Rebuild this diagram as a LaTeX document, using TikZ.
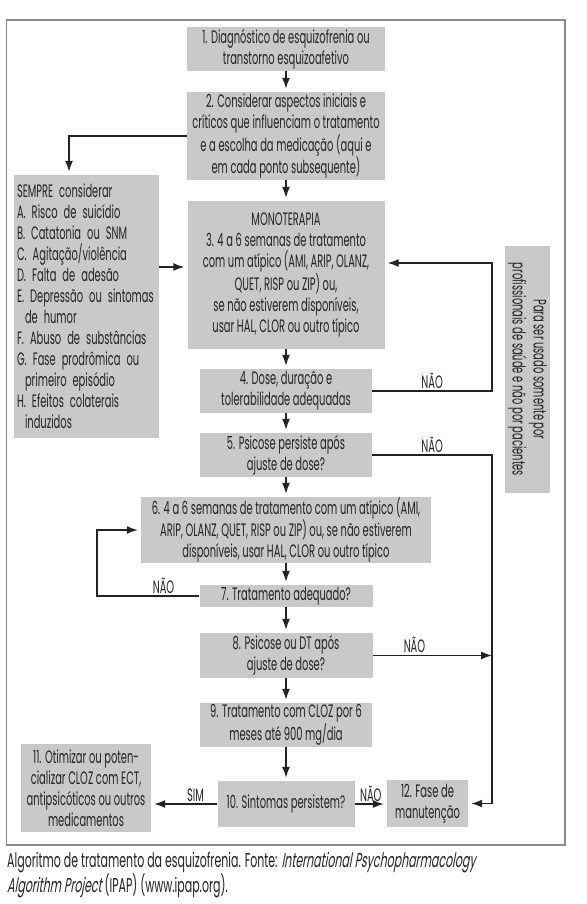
\documentclass[tikz,border=0pt]{standalone}
\usepackage{fontspec}
\setmainfont{Poppins}[FakeStretch=0.55,ItalicFont=Poppins,ItalicFeatures={FakeSlant=0.18}]
\usepackage{xcolor}
\usepackage{tikz}
\usetikzlibrary{arrows.meta,calc}
\definecolor{CinzaCaixa}{RGB}{201,201,201}
\definecolor{CinzaMoldura}{RGB}{140,140,140}
\definecolor{TracoEscuro}{RGB}{35,35,35}

\begin{document}
\begin{tikzpicture}[x=1pt,y=-1pt,>={Latex[length=11pt,width=8pt]},
  etapa/.style={fill=CinzaCaixa,inner sep=0pt,align=center,text=TracoEscuro,font=\fontsize{18}{21}\selectfont},
  fluxo/.style={->,line width=1.4pt,draw=TracoEscuro,shorten >=3pt},
  rotulo/.style={above,inner sep=2pt,text=TracoEscuro,font=\fontsize{18}{21}\selectfont}]
  \useasboundingbox (0,0) rectangle (586,904);
  \draw[CinzaMoldura,line width=1.5pt] (6.7,20) rectangle (565,845);

  \node[etapa,minimum width=198,minimum height=44] (d1) at (286,49)
    {1. Diagnóstico de esquizofrenia ou\\transtorno esquizoafetivo};
  \node[etapa,minimum width=198,minimum height=88] (d2) at (286,136)
    {2. Considerar aspectos iniciais e\\críticos que influenciam o tratamento\\e a escolha da medicação (aqui e\\em cada ponto subsequente)};
  \node[etapa,align=left,text width=139,inner sep=3pt,minimum height=263] (sempre) at (86.5,306.5)
    {SEMPRE considerar\\A. Risco de suicídio\\B. Catatonia ou SNM\\C. Agitação/violência\\D. Falta de adesão\\E. Depressão ou sintomas\\\hspace*{8pt}de humor\\F. Abuso de substâncias\\G. Fase prodrômica ou\\\hspace*{8pt}primeiro episódio\\H. Efeitos colaterais\\\hspace*{8pt}induzidos};
  \node[etapa,minimum width=197,minimum height=148] (d3) at (286,275)
    {MONOTERAPIA\\3. 4 a 6 semanas de tratamento\\com um atípico (AMI, ARIP, OLANZ,\\QUET, RISP ou ZIP) ou,\\se não estiverem disponíveis,\\usar HAL, CLOR ou outro típico};
  \node[etapa,minimum width=172,minimum height=44] (d4) at (286,391)
    {4. Dose, duração e\\tolerabilidade adequadas};
  \node[etapa,minimum width=172,minimum height=44] (d5) at (286,455)
    {5. Psicose persiste após\\ajuste de dose?};
  \node[etapa,minimum width=290,minimum height=66] (d6) at (286,530)
    {6. 4 a 6 semanas de tratamento com um atípico (AMI,\\ARIP, OLANZ, QUET, RISP ou ZIP) ou, se não estiverem\\disponíveis, usar HAL, CLOR ou outro típico};
  \node[etapa,minimum width=173,minimum height=22] (d7) at (286,596)
    {7. Tratamento adequado?};
  \node[etapa,minimum width=173,minimum height=45] (d8) at (286,655.5)
    {8. Psicose ou DT após\\ajuste de dose?};
  \node[etapa,minimum width=172,minimum height=44] (d9) at (286,725)
    {9. Tratamento com CLOZ por 6\\meses até 900 mg/dia};
  \node[etapa,minimum width=137,minimum height=46] (d10) at (286,804)
    {10. Sintomas persistem?};
  \node[etapa,minimum width=130,minimum height=88] (d11) at (86,788)
    {11. Otimizar ou poten-\\cializar CLOZ com ECT,\\antipsicóticos ou outros\\medicamentos};
  \node[etapa,minimum width=81,minimum height=47] (d12) at (427.5,803.5)
    {12. Fase de\\manutenção};
  \node[etapa,rotate=-90,minimum width=247,minimum height=45] (aviso) at (527.5,369.5)
    {Para ser usado somente por\\profissionais de saúde e não por pacientes};

  \coordinate (trilho) at (492,0);
  \coordinate (laco) at (97,0);
  \coordinate (entra3) at ([yshift=8pt]d3.west);
  \coordinate (volta3) at ([yshift=12pt]d3.east);

  \draw[fluxo] (d1) -- (d2);
  \draw[fluxo] (d2.west) -| ([xshift=-17.5pt]sempre.north);
  \draw[fluxo] (d2) -- (d3);
  \draw[fluxo] (sempre.east |- entra3) -- (entra3);
  \draw[fluxo] (d3) -- (d4);
  \draw[fluxo] (d4) -- (d5);
  \draw[fluxo] (d5) -- (d6);
  \draw[fluxo] (d6) -- (d7);
  \draw[fluxo] (d7) -- (d8);
  \draw[fluxo] (d8) -- (d9);
  \draw[fluxo] (d9) -- (d10);
  \draw[fluxo] (d4.east) -- node[rotulo]{NÃO} (d4.east -| trilho) |- (volta3);
  \draw[fluxo] (d5.east) -- node[rotulo]{NÃO} (d5.east -| trilho) |- (d12.east);
  \draw[fluxo,shorten >=0pt] (d8.east) -- node[rotulo,pos=0.35]{NÃO} (d8.east -| trilho);
  \draw[fluxo] (d7.west) -- node[rotulo,pos=0.35]{NÃO} (d7.west -| laco) |- (d6.west);
  \draw[fluxo] (d10.west) -- node[rotulo,pos=0.33]{SIM} (d11.east |- d10.west);
  \draw[fluxo] (d10.east) -- node[rotulo]{NÃO} (d12.west |- d10.east);

  \node[anchor=north west,inner sep=0pt,align=left,text=TracoEscuro,font=\fontsize{20}{21}\selectfont] (legenda) at (7,852)
    {Algoritmo de tratamento da esquizofrenia. Fonte: \textit{International Psychopharmacology}\\\textit{Algorithm Project} (IPAP) (www.ipap.org).};
\end{tikzpicture}
\end{document}
